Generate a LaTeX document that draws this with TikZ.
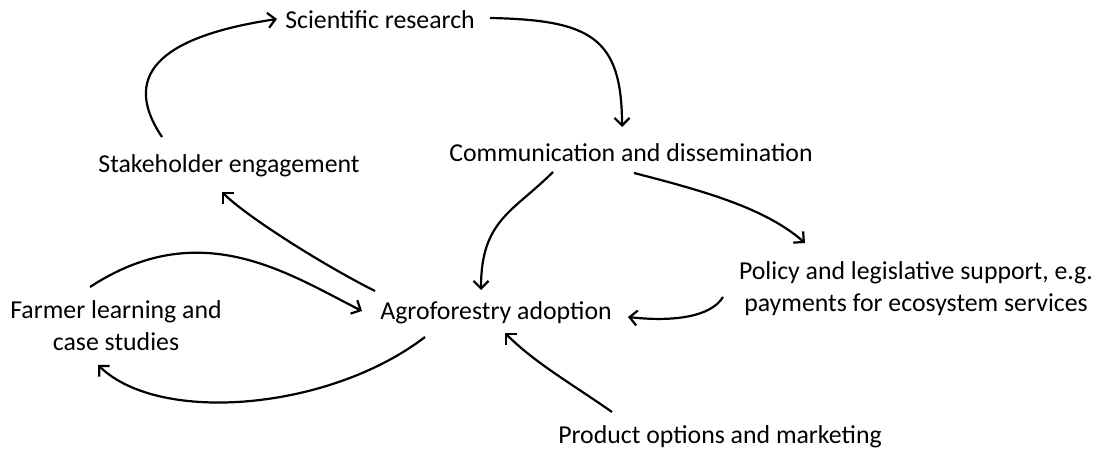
\documentclass[tikz,border=0pt]{standalone}
\usepackage{fontspec}
\setmainfont{Carlito}
\usetikzlibrary{arrows.meta}

\begin{document}
\begin{tikzpicture}[x=1pt, y=-1pt, line width=2.2pt,
    >={Straight Barb[length=7.5pt,width=15pt]},
    lbl/.style={font=\fontsize{25.8}{32}\selectfont, inner sep=0pt, align=center}]

\useasboundingbox (0,0) rectangle (1104,454);

\node[lbl] (sci) at (380,20) {Scientific research};
\node[lbl] (comm) at (631,153) {Communication and dissemination};
\node[lbl] (stake) at (229,166) {Stakeholder engagement};
\node[lbl] (policy) at (916,289) {Policy and legislative support, e.g.\\payments for ecosystem services};
\node[lbl] (farmer) at (116,326) {Farmer learning and\\case studies};
\node[lbl] (agro) at (496,313) {Agroforestry adoption};
\node[lbl] (prod) at (720,437) {Product options and marketing};

% outer loop
\draw[->] ([shift={(-67,-29)}]stake.center) .. controls +(-45,-67) and +(-107,16) .. ([shift={(-103,-1)}]sci.center);
\draw[->] ([shift={(110,-2)}]sci.center) .. controls +(100,2) and +(0,-90) .. ([shift={(-9,-26)}]comm.center);

% from communication
\draw[->] ([shift={(-78,19)}]comm.center) .. controls +(-40,40) and +(0,-70) .. ([shift={(-15,-23)}]agro.center);
\draw[->] ([shift={(3,20)}]comm.center) .. controls +(70,18) and +(-40,-35) .. ([shift={(-111,-46)}]policy.center);

% into adoption
\draw[->] ([shift={(-193,8)}]policy.center) .. controls +(-12,20) and +(45,5) .. ([shift={(132,4)}]agro.center);
\draw[->] ([shift={(-108,-25)}]prod.center) .. controls +(-40,-28) and +(30,30) .. ([shift={(9,20)}]agro.center);

% farmer and stakeholder
\draw[->] ([shift={(-121,-22)}]agro.center) .. controls +(-50,-25) and +(25,25) .. ([shift={(-7,26)}]stake.center);
\draw[->] ([shift={(-26,-39)}]farmer.center) .. controls +(110,-72) and +(-75,-38) .. ([shift={(-134,-2)}]agro.center);
\draw[->] ([shift={(-71,24)}]agro.center) .. controls +(-95,73) and +(62,60) .. ([shift={(-18,39)}]farmer.center);

\end{tikzpicture}
\end{document}
